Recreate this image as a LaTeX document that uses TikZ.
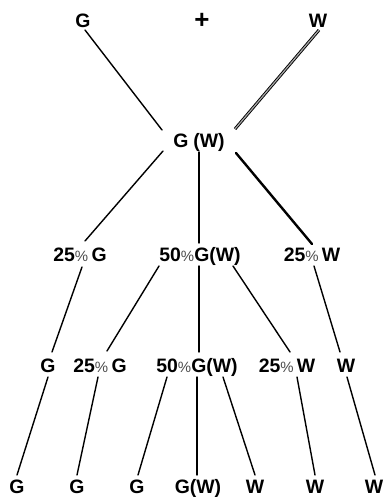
\documentclass[tikz,border=0pt]{standalone}
\usepackage{fontspec}
\setmainfont{Liberation Sans}
\usetikzlibrary{calc}
\newcommand{\pct}{{\fontsize{15}{15}\selectfont\mdseries\color{black!70}\%}}
\begin{document}
\begin{tikzpicture}[x=1bp,y=-1bp,
  lbl/.style={inner sep=0pt,text height=14bp,text depth=0pt,anchor=center,
    font=\fontsize{19.5}{22}\selectfont\bfseries},
  ln/.style={line width=1.4bp,line cap=round}]
\useasboundingbox (0,0) rectangle (386,497);
% top
\node[lbl] (tG) at (83,21) {G};
\node[lbl,font=\fontsize{26}{26}\selectfont\bfseries] (plus) at (202,22) {+};
\node[lbl] (tW) at (318,21) {W};
\node[lbl] (f1) at (199,141) {G\hspace{5bp}(W)};
% row 2
\node[lbl] (r2a) at (80,254) {25\pct\,G};
\node[lbl] (r2b) at (200,254) {50\pct G(W)};
\node[lbl] (r2c) at (312,254) {25\pct\,W};
% row 3
\node[lbl] (r3a) at (48,365) {G};
\node[lbl] (r3b) at (100,365) {25\pct\,G};
\node[lbl] (r3c) at (197,365) {50\pct G(W)};
\node[lbl] (r3d) at (287,365) {25\pct\,W};
\node[lbl] (r3e) at (346,365) {W};
% row 4
\node[lbl] (r4a) at (17,486) {G};
\node[lbl] (r4b) at (77,486) {G};
\node[lbl] (r4c) at (137,486) {G};
\node[lbl] (r4d) at (198,486) {G(W)};
\node[lbl] (r4e) at (255,486) {W};
\node[lbl] (r4f) at (315,486) {W};
\node[lbl] (r4g) at (374,486) {W};
% connectors
\draw[ln] ($(tG)+(2,9)$) -- ($(f1)+(-37,-11)$);
\draw[line width=0.9bp,double=black!35,double distance=1.2bp] ($(tW)+(1,9)$) -- ($(f1)+(36,-12)$);
\draw[ln] ($(f1)+(-36,10)$) -- ($(r2a)+(5,-13)$);
\draw[ln] ($(f1)+(0,11)$) -- ($(r2b)+(-1,-11)$);
\draw[ln,line width=2.4bp] ($(f1)+(37,12)$) -- ($(r2c)+(0,-10)$);
\draw[ln] ($(r2a)+(2,13)$) -- ($(r3a)+(4,-13)$);
\draw[ln] ($(r2b)+(-41,12)$) -- ($(r3b)+(7,-14)$);
\draw[ln] ($(r2b)+(-1,12)$) -- ($(r3c)+(2,-13)$);
\draw[ln] ($(r2b)+(33,12)$) -- ($(r3d)+(3,-13)$);
\draw[ln] ($(r2c)+(2,12)$) -- ($(r3e)+(-6,-13)$);
\draw[ln] ($(r3a)+(0,12)$) -- ($(r4a)+(0,-11)$);
\draw[ln] ($(r3b)+(-2,12)$) -- ($(r4b)+(0,-11)$);
\draw[ln] ($(r3c)+(-30,12)$) -- ($(r4c)+(1,-11)$);
\draw[ln] ($(r3c)+(0,12)$) -- ($(r4d)+(-1,-11)$);
\draw[ln] ($(r3c)+(26,12)$) -- ($(r4e)+(0,-11)$);
\draw[ln] ($(r3d)+(10,12)$) -- ($(r4f)+(0,-11)$);
\draw[ln] ($(r3e)+(1,12)$) -- ($(r4g)+(1,-11)$);
\end{tikzpicture}
\end{document}
